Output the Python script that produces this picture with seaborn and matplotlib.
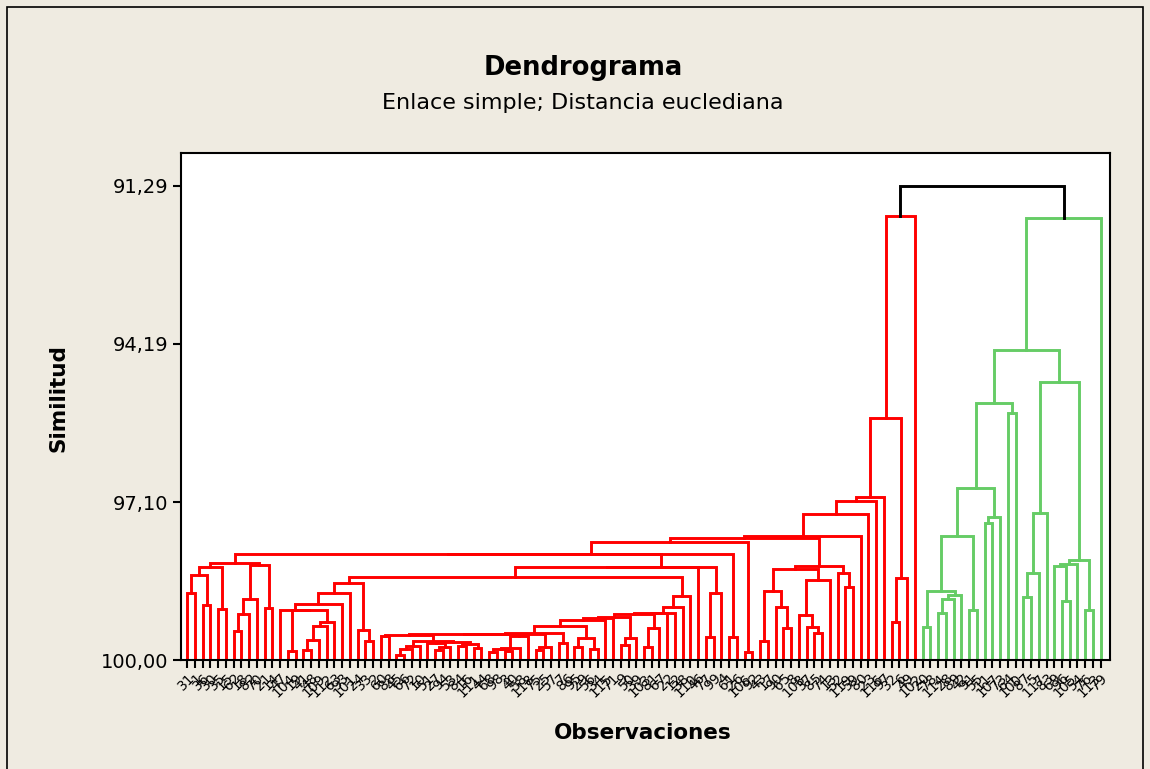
import matplotlib
matplotlib.use("Agg")
import matplotlib.pyplot as plt
import seaborn as sns
import pandas as pd
from matplotlib.patches import Rectangle

# ---------------- data ----------------
# similarity level at which each pair of neighbouring leaves is joined
# (leaves in dendrogram order, left to right)
join_similarity = [
    98.77, 98.43, 98.99, 98.30, 99.06, 98.21, 99.47, 99.15, 98.87, 98.25,
    99.05, 98.06, 99.08, 99.83, 99.09, 99.82, 99.63, 99.38, 99.31, 98.97,
    98.76, 98.59, 99.45, 99.66, 98.47, 99.56, 99.54, 99.91, 99.80, 99.74,
    99.65, 99.68, 99.82, 99.76, 99.67, 99.74, 99.71, 99.78, 99.53, 99.85,
    99.80, 99.83, 99.78, 99.56, 99.52, 99.82, 99.76, 99.51, 99.69, 99.38,
    99.76, 99.60, 99.80, 99.26, 99.22, 99.21, 99.72, 99.60, 99.15, 99.76,
    99.42, 99.14, 99.13, 99.02, 98.82, 98.30, 98.29, 99.57, 98.76, 98.05,
    99.57, 97.84, 99.85, 97.76, 99.66, 98.74, 99.02, 99.41, 98.33, 99.17,
    99.39, 99.50, 98.53, 98.27, 98.41, 98.65, 97.72, 97.32, 97.07, 97.00,
    95.55, 99.31, 98.50, 91.84, 91.29, 99.40, 98.74, 99.14, 98.88, 98.81,
    97.73, 99.09, 96.84, 97.48, 97.37, 95.27, 95.47, 94.30, 98.84, 98.40,
    97.30, 94.89, 98.27, 98.91, 98.24, 98.17, 99.09, 91.88,
]
n_first_cluster = 95          # leaves drawn in red; the rest are green

obs_labels = [
    31, 1, 36, 30, 35, 15, 62, 18, 82, 70, 21, 14, 47, 104, 19, 41, 48, 109,
    112, 63, 93, 101, 24, 33, 2, 60, 88, 45, 66, 72, 10, 51, 27, 94, 53, 84,
    16, 111, 44, 68, 98, 3, 40, 58, 118, 75, 25, 57, 7, 86, 95, 29, 56, 34,
    115, 71, 9, 50, 39, 103, 81, 67, 22, 12, 38, 110, 46, 77, 99, 4, 61, 26,
    106, 92, 43, 17, 90, 65, 8, 108, 37, 85, 74, 13, 52, 119, 59, 80, 23, 116,
    97, 32, 6, 49, 102, 20, 78, 114, 28, 89, 42, 91, 55, 11, 107, 73, 64, 100,
    87, 5, 117, 83, 69, 96, 105, 54, 76, 113, 79,
]

y_ticks = [91.29, 94.19, 97.10, 100.00]
y_tick_labels = ["91,29", "94,19", "97,10", "100,00"]

title = "Dendrograma"
subtitle = "Enlace simple; Distancia euclediana"
x_label = "Observaciones"
y_label = "Similitud"

# ---------------- build the links ----------------
n_leaves = len(join_similarity) + 1
rows = []
node_counter = [0]


def build(lo, hi):
    """Return (x_center, similarity) of the cluster made of leaves lo..hi."""
    if lo == hi:
        return float(lo), 100.0
    k = min(range(lo, hi), key=lambda j: join_similarity[j])
    xl, hl = build(lo, k)
    xr, hr = build(k + 1, hi)
    h = join_similarity[k]
    if lo == 0 and hi == n_leaves - 1:
        grp = "root"
    elif hi < n_first_cluster:
        grp = "red"
    else:
        grp = "green"
    nid = node_counter[0]
    node_counter[0] += 1
    for px, py in [(xl, hl), (xl, h), (xr, h), (xr, hr)]:
        rows.append({"node": nid, "x": px, "y": py, "group": grp})
    return (xl + xr) / 2.0, h


build(0, n_leaves - 1)
links = pd.DataFrame(rows)

# ---------------- figure ----------------
sns.set_theme(style="white")
plt.rcParams["font.family"] = ["DejaVu Sans"]
plt.rcParams["text.color"] = "black"
plt.rcParams["xtick.color"] = "black"
plt.rcParams["ytick.color"] = "black"
plt.rcParams["axes.labelcolor"] = "black"

W, H = 1150, 769
bg = "#EFEBE1"
fig = plt.figure(figsize=(W / 100, H / 100), dpi=100, facecolor=bg)
ax = fig.add_axes([181 / W, 1 - 660 / H, (1110 - 181) / W, (660 - 153) / H])
ax.set_facecolor("white")

sns.lineplot(
    data=links, x="x", y="y", units="node", estimator=None, sort=False,
    hue="group", palette={"red": "#FF0000", "green": "#66CC66", "root": "#000000"},
    legend=False, linewidth=2.1, ax=ax,
    solid_joinstyle="miter", solid_capstyle="projecting",
)

ax.set_ylim(100, 90.684)
ax.set_xlim(-0.81, n_leaves - 1 + 1.2)

ax.set_yticks(y_ticks)
ax.set_yticklabels(y_tick_labels, fontsize=14, color="black")
ax.set_xticks(range(n_leaves))
ax.set_xticklabels([str(v) for v in obs_labels], fontsize=10, rotation=45,
                   ha="right", va="top", rotation_mode="anchor", color="black")
ax.tick_params(axis="y", direction="out", length=6, width=1.5, color="black",
               pad=3, left=True)
ax.tick_params(axis="x", direction="out", length=6, width=1.5, color="black",
               pad=2, bottom=True)
for s in ax.spines.values():
    s.set_color("black")
    s.set_linewidth(1.5)
    s.set_visible(True)

ax.set_xlabel("")
ax.set_ylabel("")
fig.text(643 / W, 1 - 733 / H, x_label, ha="center", va="center",
         fontsize=15.5, fontweight="bold", color="black")
fig.text(58 / W, 1 - 398 / H, y_label, ha="center", va="center",
         fontsize=15.5, fontweight="bold", rotation=90, color="black")
fig.text(583 / W, 1 - 68 / H, title, ha="center", va="center",
         fontsize=18.6, fontweight="bold", color="black")
fig.text(583 / W, 1 - 103 / H, subtitle, ha="center", va="center",
         fontsize=16, color="black")

# outer frame of the graph window
fig.patches.append(Rectangle((7 / W, -0.05), (1143 - 7) / W, 1.05 - 7 / H,
                             transform=fig.transFigure, fill=False,
                             edgecolor="black", linewidth=1.2))

fig.savefig("out.png", dpi=100, facecolor=bg)
